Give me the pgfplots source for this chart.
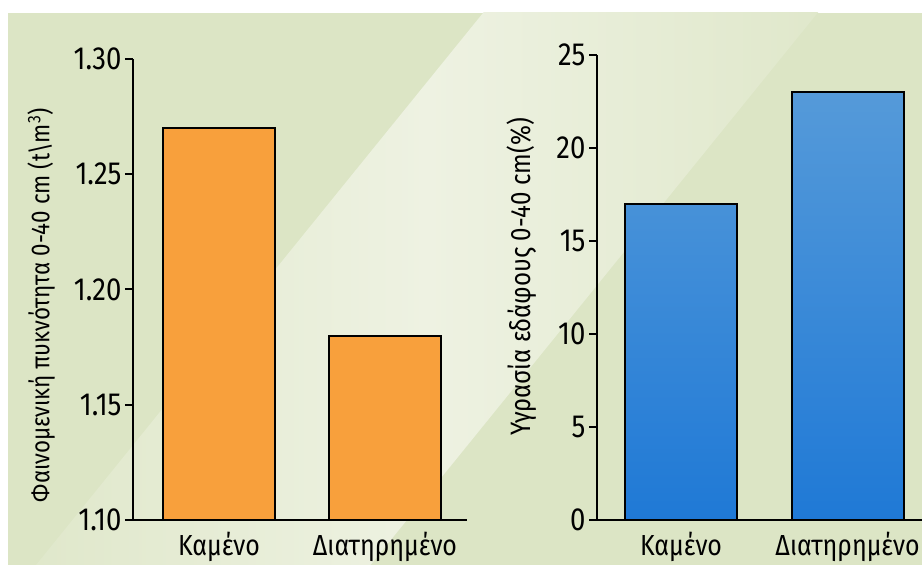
\documentclass[border=0pt]{standalone}
\usepackage{pgfplots}
\pgfplotsset{compat=1.18}
\usepackage{fontspec}
\setmainfont{Fira Sans}[FakeStretch=0.86]

\definecolor{bg}{HTML}{DCE5C5}
\definecolor{bglight}{HTML}{EEF2E2}
\definecolor{orangebar}{HTML}{F8A03C}
\definecolor{bluetop}{HTML}{559AD9}
\definecolor{bluebot}{HTML}{1F79D6}

\pgfplotsset{
  chartbase/.style={
    scale only axis,
    anchor=south west,
    axis x line*=bottom, axis y line*=left,
    axis line style={line width=2pt, -},
    ybar, bar width=112pt,
    tick align=outside,
    major tick length=8pt,
    ytick style={line width=2pt, black},
    xtick style={draw=none},
    xtick={0,1},
    xticklabels={Καμένο, Διατηρημένο},
    xticklabel style={font=\fontsize{29}{33}\selectfont, anchor=north, yshift=-1pt},
    yticklabel style={font=\fontsize{32}{36}\selectfont, anchor=east},
    ylabel style={anchor=center},
    /pgf/number format/assume math mode=true,
    clip=true,
  }
}

\begin{document}
\begin{tikzpicture}
  \fill[white] (0pt,0pt) rectangle (922pt,565pt);
  \fill[bg] (8pt,0pt) rectangle (922pt,552pt);
  \begin{scope}
    \clip (8pt,0pt) rectangle (922pt,552pt);
    \shade[rotate around={-39:(430pt,280pt)}, left color=bg, right color=bg, middle color=bglight]
      (300pt,-350pt) rectangle (560pt,900pt);
  \end{scope}

  \begin{axis}[chartbase,
    at={(133pt,45pt)}, width=334pt, height=461pt,
    xmin=-0.518, xmax=1.494,
    ymin=1.10, ymax=1.30,
    ytick={1.10,1.15,1.20,1.25,1.30},
    yticklabel style={/pgf/number format/.cd, fixed, fixed zerofill, precision=2},
    ylabel={Φαινομενική πυκνότητα 0-40 cm (t\textbackslash m\textsuperscript{3})},
    ylabel style={font=\fontsize{26}{30}\selectfont, at={(axis description cs:-0.275,0.466)}},
  ]
    \addplot[draw=black, line width=2pt, fill=orangebar] coordinates {(0,1.27) (1,1.18)};
  \end{axis}

  \begin{axis}[chartbase,
    at={(597pt,45pt)}, width=325pt, height=465pt,
    xmin=-0.5045, xmax=1.447,
    ymin=0, ymax=25,
    ytick={0,5,10,15,20,25},
    ylabel={Υγρασία εδάφους 0-40 cm(\%)},
    ylabel style={font=\fontsize{28}{32}\selectfont, at={(axis description cs:-0.231,0.523)}},
  ]
    \addplot[draw=black, line width=2pt, top color=bluetop, bottom color=bluebot] coordinates {(0,17) (1,23)};
  \end{axis}
  \pgfresetboundingbox
  \useasboundingbox (0pt,0pt) rectangle (922pt,565pt);
\end{tikzpicture}
\end{document}
